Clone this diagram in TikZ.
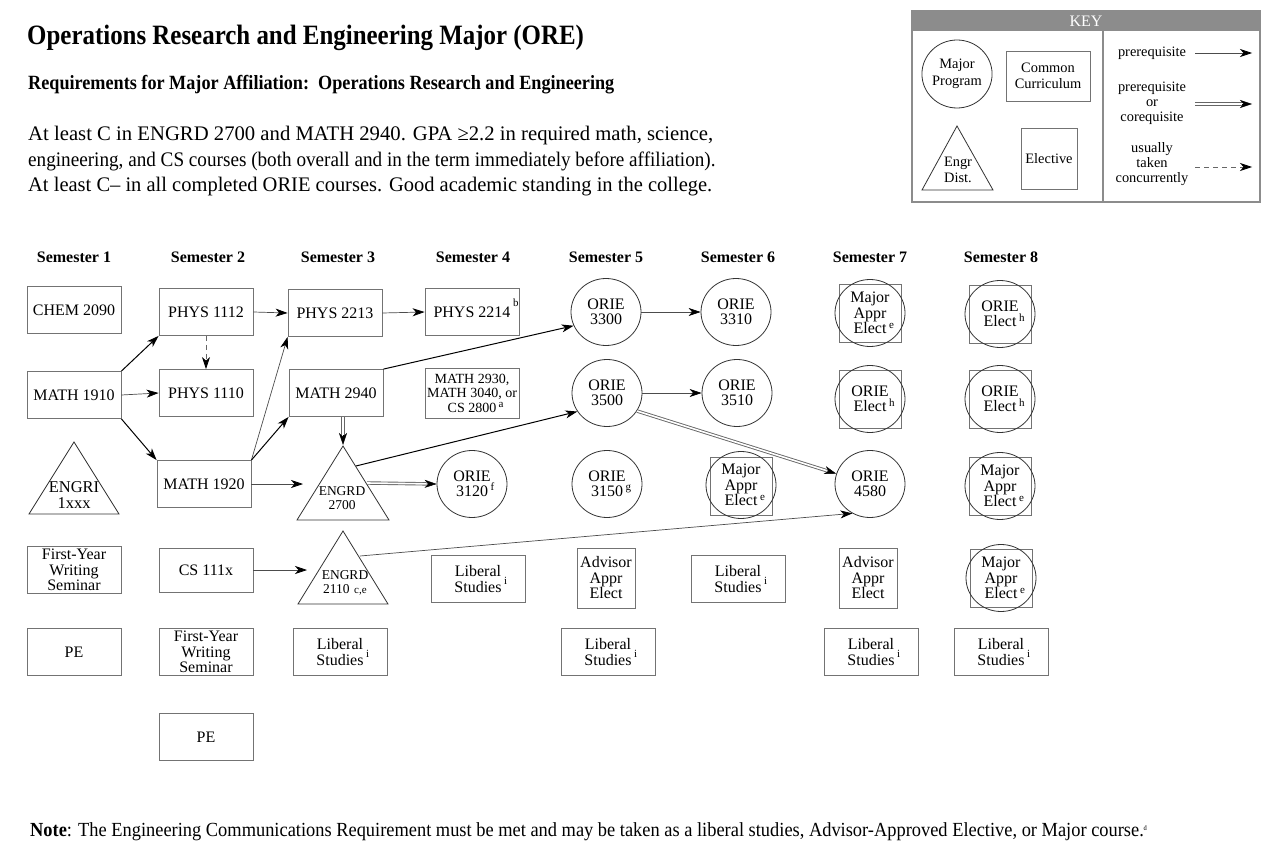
\documentclass[tikz,border=0pt]{standalone}
\usepackage{fontspec}
\setmainfont{Liberation Serif}
\newfontfamily\titlefont{Liberation Serif}[FakeStretch=0.89]
\newfontfamily\condfont{Liberation Serif}[FakeStretch=0.90]
\newfontfamily\notefont{Liberation Serif}[FakeStretch=0.92]
\usetikzlibrary{shapes.geometric,arrows.meta,calc}
\newcommand{\fs}[2]{\fontsize{#1}{#2}\selectfont}
\newcommand{\mysup}[2][7pt]{\rlap{\,\smash{\raisebox{#1}{\fs{11}{11}#2}}}}
\newcommand{\dblarrow}[2]{%
  \draw[arrtip] (#1) -- (#2);
  \draw[dbl, shorten >=10pt] (#1) -- (#2);}
\begin{document}
\begin{tikzpicture}[x=1pt,y=-1pt,
  box/.style={draw=black!55, line width=0.8pt, rectangle, minimum width=94pt, minimum height=47pt, inner sep=0pt, align=center, font=\fs{16}{15.5}},
  crc/.style={draw=black!80, line width=0.8pt, ellipse, minimum width=70pt, minimum height=67pt, inner sep=0pt, align=center, font=\fs{16}{15.5}},
  sqr/.style={draw=black!55, line width=0.8pt, rectangle, minimum width=62pt, minimum height=58pt, inner sep=0pt},
  tri/.style={draw=black!80, line width=0.8pt, line join=miter},
  txt/.style={inner sep=0pt, align=center},
  hdr/.style={inner sep=0pt, font=\bfseries\fs{16}{18}},
  tipst/.tip={Stealth[length=12pt,width=8pt,inset=3.5pt,color=black]},
  arr/.style={draw=black, line width=1pt, -tipst},
  arrthin/.style={draw=black!70, line width=0.7pt, -tipst},
  arrtip/.style={draw=black, line width=0.5pt, -tipst},
  dsh/.style={draw=black!60, line width=0.8pt, dash pattern=on 5pt off 4pt, -tipst},
  dbl/.style={draw=black!60, double=white, double distance=1.6pt, line width=0.9pt},
  keyt/.style={inner sep=0pt, align=center, font=\fs{14.4}{15}}
]
\useasboundingbox (0,0) rectangle (1280,853);
\fill[white] (0,0) rectangle (1280,853);

% ---------- header texts ----------
\node[anchor=base west, inner sep=0pt] (title) at (27,45) {\titlefont\bfseries\fs{28}{30}Operations Research and Engineering Major (ORE)};
\node[anchor=base west, inner sep=0pt] (subtitle) at (28,89.5) {\condfont\bfseries\fs{20.2}{22}Requirements for Major Affiliation:\ \ Operations Research and Engineering};
\node[anchor=base west, inner sep=0pt, font=\fs{20.7}{24}] (para1) at (28,141) {At least C in ENGRD 2700 and MATH 2940. GPA ≥2.2 in required math, science,};
\node[anchor=base west, inner sep=0pt, font=\fs{20.7}{24}] (para2) at (28,166.5) {\scalebox{0.926}[1]{engineering, and CS courses (both overall and in the term immediately before affiliation).}};
\node[anchor=base west, inner sep=0pt, font=\fs{20.7}{24}] (para3) at (28,192) {\scalebox{0.99}[1]{At least C– in all completed ORIE courses. Good academic standing in the college.}};
\node[anchor=base west, inner sep=0pt] (note) at (30,836) {\notefont\fs{20}{22}\textbf{Note}: The Engineering Communications Requirement must be met and may be taken as a liberal studies, Advisor-Approved Elective, or Major course.\raisebox{6pt}{\fs{7}{7}d}};

% ---------- key ----------
\draw[draw=black!45, line width=1.2pt] (912,11) rectangle (1260,202);
\fill[black!45] (912,11) rectangle (1260,31);
\node[inner sep=0pt, text=white, font=\fs{16}{17}] (keyhead) at (1086,21.5) {KEY};
\draw[draw=black!45, line width=1.2pt] (1103,31) -- (1103,202);
\node[crc, minimum width=68pt, minimum height=68pt, font=\fs{14.4}{16.5}] (kmaj) at (957,74) {Major\\Program};
\node[box, minimum width=84pt, minimum height=50pt, font=\fs{14.4}{16.5}] (kcc) at (1048,76) {Common\\Curriculum};
\draw[tri] (957,126) -- (993,190) -- (922,190) -- cycle;
\node[keyt, font=\fs{14.4}{16}] (keng) at (958,170) {Engr\\Dist.};
\node[box, minimum width=56pt, minimum height=61pt, font=\fs{14.4}{16}] (kel) at (1049,158.5) {Elective};
\node[keyt] (kt1) at (1152,53) {prerequisite};
\node[keyt] (kt2) at (1152,103) {prerequisite\\or\\corequisite};
\node[keyt] (kt3) at (1152,164.5) {usually\\taken\\concurrently};
\coordinate (ka1) at (1195,53);  \coordinate (kb1) at (1252,53);
\coordinate (ka2) at (1195,104); \coordinate (kb2) at (1252,104);
\coordinate (ka3) at (1195,167); \coordinate (kb3) at (1252,167);
\draw[arrthin] (ka1) -- (kb1);
\dblarrow{ka2}{kb2}
\draw[dsh] (ka3) -- (kb3);

% ---------- semester headers ----------
\node[hdr] (s1) at (74,257) {Semester 1};
\node[hdr] (s2) at (208,257) {Semester 2};
\node[hdr] (s3) at (338,257) {Semester 3};
\node[hdr] (s4) at (473,257) {Semester 4};
\node[hdr] (s5) at (606,257) {Semester 5};
\node[hdr] (s6) at (738,257) {Semester 6};
\node[hdr] (s7) at (870,257) {Semester 7};
\node[hdr] (s8) at (1001,257) {Semester 8};

% ---------- semester 1 ----------
\node[box] (chem) at (74,310) {CHEM 2090};
\node[box] (m1910) at (74,395) {MATH 1910};
\draw[tri] (74,442) -- (119,514) -- (29,514) -- cycle;
\node[txt, font=\fs{16.5}{16}] (engri) at (74,495) {ENGRI\\1xxx};
\node[box] (fyws1) at (74,570) {First-Year\\Writing\\Seminar};
\node[box] (pe1) at (74,652) {PE};

% ---------- semester 2 ----------
\node[box] (p1112) at (206,312) {PHYS 1112};
\node[box] (p1110) at (206,393) {PHYS 1110};
\node[box] (m1920) at (204,484) {MATH 1920};
\node[box, minimum height=44pt] (cs) at (206,570) {CS 111x};
\node[box] (fyws2) at (206,652) {First-Year\\Writing\\Seminar};
\node[box] (pe2) at (206,737) {PE};

% ---------- semester 3 ----------
\node[box] (p2213) at (335,313) {PHYS 2213};
\node[box] (m2940) at (336,393) {MATH 2940};
\draw[tri] (343,446) -- (389,520) -- (297,520) -- cycle;
\node[txt, font=\fs{13.5}{13.5}] (e2700) at (342,498) {ENGRD\\2700};
\coordinate (t2700n) at (343,445);
\coordinate (t2700w) at (303,484);
\coordinate (t2700ne) at (356,466);
\coordinate (t2700e) at (367,483);
\draw[tri] (343,531) -- (388,604) -- (298,604) -- cycle;
\node[txt, font=\fs{13.5}{14.5}] (e2110) at (345,583) {ENGRD\\2110\,\,{\fs{11}{11}c,e}};
\coordinate (t2110w) at (307,570);
\coordinate (t2110ne) at (360,556);
\node[box] (ls3) at (340,652) {Liberal\\Studies\mysup[8pt]{i}};

% ---------- semester 4 ----------
\node[box] (p2214) at (472,312) {PHYS 2214\mysup[11pt]{b}};
\node[box, minimum height=50pt, font=\fs{14}{14.5}] (m2930) at (472,393) {MATH 2930,\\MATH 3040, or\\CS 2800\mysup[5pt]{a}};
\node[crc] (o3120) at (472,484) {ORIE\\3120\mysup[6pt]{f}};
\node[box] (ls4) at (478,579) {Liberal\\Studies\mysup[8pt]{i}};

% ---------- semester 5 ----------
\node[crc] (o3300) at (606,312) {ORIE\\3300};
\node[crc] (o3500) at (607,393) {ORIE\\3500};
\node[crc] (o3150) at (607,484) {ORIE\\3150\mysup[6pt]{g}};
\node[box, minimum width=58pt, minimum height=60pt] (aae5) at (606,578) {Advisor\\Appr\\Elect};
\node[box] (ls5) at (608,652) {Liberal\\Studies\mysup[8pt]{i}};

% ---------- semester 6 ----------
\node[crc] (o3310) at (736,312) {ORIE\\3310};
\node[crc] (o3510) at (737,393) {ORIE\\3510};
\node[sqr] (mae6s) at (741,486) {};
\node[crc] (mae6) at (741,485) {Major\\Appr\\Elect\mysup[5pt]{e}};
\node[box] (ls6) at (738,579) {Liberal\\Studies\mysup[8pt]{i}};

% ---------- semester 7 ----------
\node[sqr] (mae7s) at (870,313) {};
\node[crc] (mae7) at (870,313) {Major\\Appr\\Elect\mysup[5pt]{e}};
\node[sqr] (oe7s) at (870,399) {};
\node[crc] (oe7) at (870,399) {ORIE\\Elect\mysup[5pt]{h}};
\node[crc] (o4580) at (870,484) {ORIE\\4580};
\node[box, minimum width=58pt, minimum height=60pt] (aae7) at (868,578) {Advisor\\Appr\\Elect};
\node[box] (ls7) at (871,652) {Liberal\\Studies\mysup[8pt]{i}};

% ---------- semester 8 ----------
\node[sqr] (oe8as) at (1000,314) {};
\node[crc] (oe8a) at (1000,314) {ORIE\\Elect\mysup[5pt]{h}};
\node[sqr] (oe8bs) at (1000,399) {};
\node[crc] (oe8b) at (1000,399) {ORIE\\Elect\mysup[5pt]{h}};
\node[sqr] (mae8as) at (1000,486) {};
\node[crc] (mae8a) at (1000,486) {Major\\Appr\\Elect\mysup[5pt]{e}};
\node[sqr] (mae8bs) at (1001,578) {};
\node[crc] (mae8b) at (1001,578) {Major\\Appr\\Elect\mysup[5pt]{e}};
\node[box] (ls8) at (1001,652) {Liberal\\Studies\mysup[8pt]{i}};

% ---------- connectors ----------
\draw[arr] (m1910.north east) -- (p1112.south west);
\draw[arrthin] (m1910.east) -- (p1110.west);
\draw[arr] (m1910.south east) -- (m1920.north west);
\draw[dsh] (p1112.south) -- (p1110.north);
\draw[arrthin] (p1112.east) -- (p2213.west);
\draw[arrthin] (m1920.north east) -- (p2213.south west);
\draw[arr] (m1920.north east) -- (m2940.south west);
\draw[arrthin] (m1920.east) -- (t2700w);
\dblarrow{t2700n |- m2940.south}{t2700n}
\draw[arrthin] (p2213.east) -- (p2214.west);
\draw[arr] (m2940.north east) -- (o3300.203);
\draw[arr] (t2700ne) -- (o3500.212);
\dblarrow{t2700e}{o3120.west}
\draw[arrthin] (cs.east) -- (t2110w);
\draw[arrthin] (t2110ne) -- (o4580.239);
\draw[arrthin] (o3300.east) -- (o3310.west);
\draw[arrthin] (o3500.east) -- (o3510.west);
\dblarrow{o3500.329}{o4580.163}
\end{tikzpicture}
\end{document}
